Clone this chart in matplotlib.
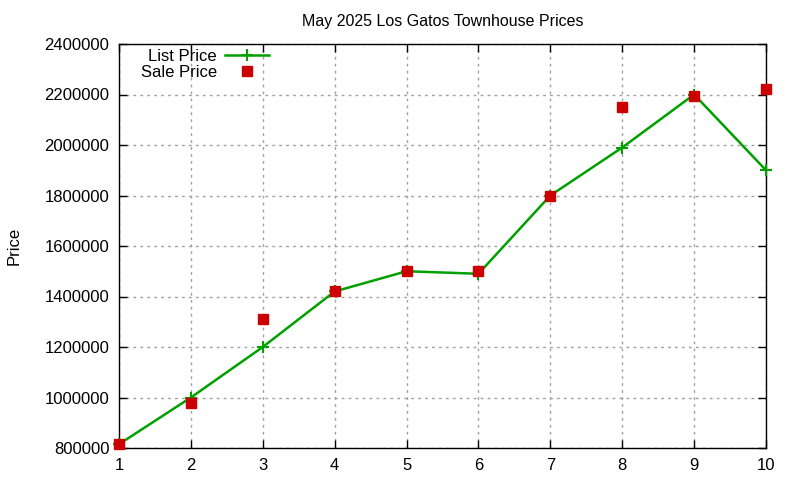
import matplotlib
matplotlib.use("Agg")
import matplotlib.pyplot as plt

plt.rcParams['font.family'] = ['Liberation Sans', 'DejaVu Sans']

homes = [1, 2, 3, 4, 5, 6, 7, 8, 9, 10]
list_price = [815000, 1000000, 1200000, 1420000, 1500000, 1490000, 1800000, 1990000, 2200000, 1900000]
sale_price = [815000, 978000, 1312000, 1420000, 1500000, 1500000, 1800000, 2150000, 2195000, 2223000]
yticks = [800000, 1000000, 1200000, 1400000, 1600000, 1800000, 2000000, 2200000, 2400000]

fig = plt.figure(figsize=(8, 4.8), dpi=100)
ax = fig.add_axes([119 / 800, 1 - 448 / 480, (766 - 119) / 800, (448 - 44) / 480])

ax.plot(homes, list_price, color='#00a000', lw=1.8, marker='+', ms=9, mew=1.5,
        label='List Price', clip_on=False, zorder=3)
ax.plot(homes, sale_price, ls='none', marker='s', ms=7, color='#cc0000',
        label='Sale Price', clip_on=False, zorder=4)

ax.set_xlim(1, 10)
ax.set_ylim(800000, 2400000)
ax.set_xticks(homes)
ax.set_yticks(yticks)
ax.set_yticklabels([str(v) for v in yticks])
ax.tick_params(direction='in', top=True, right=True, labelsize=12, length=6, width=1, pad=7)
ax.grid(True, color='#a0a0a0', ls=(0, (2, 3)), lw=1)
for s in ax.spines.values():
    s.set_linewidth(1)

ax.set_title('May 2025 Los Gatos Townhouse Prices', fontsize=11.5, pad=13)
ax.set_ylabel('Price', fontsize=12, labelpad=16)

leg = ax.legend(loc='upper left', bbox_to_anchor=(0.013, 1.02), frameon=False, fontsize=12,
                markerfirst=False, handlelength=2.6, labelspacing=0.05, borderpad=0.3,
                handletextpad=0.5)
for t in leg.get_texts():
    t.set_ha('right')
leg._legend_box.align = 'right'

fig.savefig('out.png', dpi=100)
